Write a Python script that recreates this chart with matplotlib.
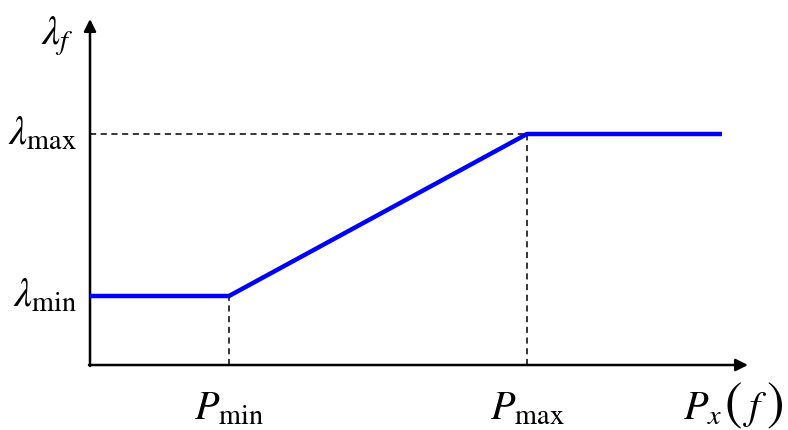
import matplotlib
matplotlib.use('Agg')
import matplotlib.pyplot as plt

plt.rcParams['mathtext.fontset'] = 'stix'
plt.rcParams['font.family'] = 'Liberation Serif'

# breakpoints of the piecewise curve (arbitrary units)
p_min = 1.39
p_max = 4.37
p_end = 6.32
lam_min = 0.69
lam_max = 2.31

curve_x = [0, p_min, p_max, p_end]
curve_y = [lam_min, lam_min, lam_max, lam_max]

x_arrow_end = 6.58
y_arrow_end = 3.46

fig = plt.figure(figsize=(7.88, 4.31), dpi=100)
ax = fig.add_axes([90 / 788, 65 / 431, 698 / 788, 366 / 431])
ax.set_xlim(0, 6.98)
ax.set_ylim(0, 3.66)
ax.axis('off')

# axes with arrows
arrow = dict(arrowstyle='-|>', lw=1.8, color='k', mutation_scale=18, shrinkA=0, shrinkB=0)
ax.annotate('', xy=(x_arrow_end, 0), xytext=(-0.01, 0), arrowprops=arrow, annotation_clip=False)
ax.annotate('', xy=(0, y_arrow_end), xytext=(0, -0.01), arrowprops=arrow, annotation_clip=False)

# dashed guides
dash = dict(color='k', lw=1.1, ls=(0, (4, 3)))
ax.plot([p_min, p_min], [0, lam_min], **dash)
ax.plot([p_max, p_max], [0, lam_max], **dash)
ax.plot([0, p_max], [lam_max, lam_max], **dash)

ax.plot(curve_x, curve_y, color='#0000ff', lw=3.2, solid_capstyle='butt', zorder=5)

fs = 29
ax.text(-0.13, lam_max, r'$\lambda_{\rm max}$', ha='right', va='center', fontsize=fs, clip_on=False)
ax.text(-0.13, lam_min, r'$\lambda_{\rm min}$', ha='right', va='center', fontsize=fs, clip_on=False)
ax.text(-0.33, 3.3, r'$\lambda_f$', ha='center', va='center', fontsize=fs, clip_on=False)
ax.text(p_min, -0.44, r'$P_{\rm min}$', ha='center', va='center', fontsize=fs, clip_on=False)
ax.text(p_max, -0.44, r'$P_{\rm max}$', ha='center', va='center', fontsize=fs, clip_on=False)
# P_x with taller parentheses around f
ax.text(6.13, -0.44, r'$P_x$', ha='center', va='center', fontsize=fs, clip_on=False)
ax.text(6.43, -0.40, r'$($', ha='center', va='center', fontsize=38, clip_on=False)
ax.text(6.65, -0.44, r'$f$', ha='center', va='center', fontsize=fs, clip_on=False)
ax.text(6.85, -0.40, r'$)$', ha='center', va='center', fontsize=38, clip_on=False)

plt.savefig('out.png', dpi=100)
plt.close()
